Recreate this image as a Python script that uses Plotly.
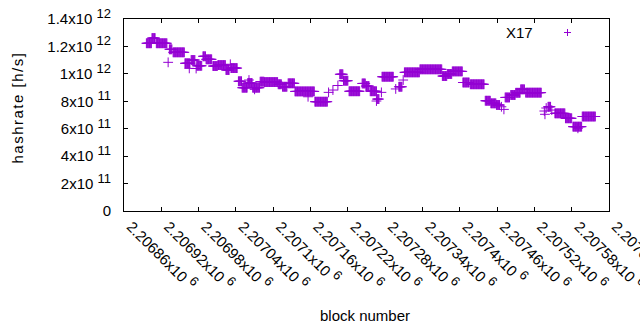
import plotly.graph_objects as go

# ---- data ----
# runs of blocks sharing the same hashrate estimate (start block, end block, value in h/s)
run_start = [2206896, 2206905, 2206912, 2206931, 2206933, 2206939, 2206958, 2206965, 2206968, 2206976,
             2206977, 2206987, 2206992, 2207003, 2207011, 2207024, 2207031, 2207032, 2207044, 2207050,
             2207059, 2207061, 2207067, 2207070, 2207079, 2207086, 2207108, 2207115, 2207124, 2207135,
             2207156, 2207167, 2207189, 2207196, 2207204, 2207207, 2207213, 2207222, 2207243, 2207249,
             2207256, 2207266, 2207267, 2207274, 2207275, 2207297, 2207302, 2207309, 2207311, 2207336,
             2207372, 2207380, 2207388, 2207405, 2207417, 2207441, 2207450, 2207459, 2207467, 2207471,
             2207473, 2207482, 2207490, 2207498, 2207506, 2207536, 2207537, 2207539, 2207542, 2207548,
             2207553, 2207570, 2207582, 2207590, 2207597]
run_end = [2206904, 2206910, 2206929, 2206931, 2206937, 2206957, 2206966, 2206965, 2206974, 2206976,
           2206985, 2206991, 2207001, 2207010, 2207023, 2207029, 2207031, 2207042, 2207049, 2207058,
           2207066, 2207061, 2207078, 2207070, 2207085, 2207107, 2207113, 2207122, 2207134, 2207166,
           2207156, 2207187, 2207189, 2207196, 2207204, 2207212, 2207220, 2207239, 2207248, 2207254,
           2207266, 2207266, 2207270, 2207274, 2207293, 2207297, 2207307, 2207309, 2207335, 2207371,
           2207379, 2207387, 2207404, 2207415, 2207439, 2207449, 2207458, 2207464, 2207467, 2207471,
           2207480, 2207489, 2207497, 2207504, 2207531, 2207536, 2207537, 2207539, 2207546, 2207548,
           2207569, 2207580, 2207596, 2207590, 2207618]
run_value = [1.223e12, 1.261e12, 1.223e12, 1.084e12, 1.179e12, 1.157e12, 1.077e12, 1.040e12, 1.101e12, 1.039e12,
             1.059e12, 1.128e12, 1.106e12, 1.057e12, 1.064e12, 1.028e12, 1.070e12, 1.042e12, 9.46e11, 8.99e11,
             9.33e11, 9.55e11, 8.99e11, 8.87e11, 9.43e11, 9.40e11, 9.24e11, 9.06e11, 9.31e11, 8.72e11,
             8.33e11, 7.97e11, 8.65e11, 8.82e11, 9.15e11, 9.97e11, 9.50e11, 8.73e11, 9.30e11, 9.11e11,
             8.73e11, 8.02e11, 8.16e11, 8.65e11, 9.79e11, 8.90e11, 9.06e11, 9.55e11, 1.011e12, 1.033e12,
             9.84e11, 9.99e11, 1.018e12, 9.37e11, 9.24e11, 8.04e11, 7.85e11, 7.73e11, 7.60e11, 7.41e11,
             8.28e11, 8.46e11, 8.62e11, 8.87e11, 8.63e11, 7.29e11, 7.05e11, 7.51e11, 7.60e11, 7.36e11,
             7.12e11, 6.76e11, 6.15e11, 6.03e11, 6.89e11]

series_name = "X17"

x_tick_vals = [2206860, 2206920, 2206980, 2207040, 2207100, 2207160, 2207220,
               2207280, 2207340, 2207400, 2207460, 2207520, 2207580, 2207640]
x_tick_mant = ["2.20686", "2.20692", "2.20698", "2.20704", "2.2071", "2.20716", "2.20722",
               "2.20728", "2.20734", "2.2074", "2.20746", "2.20752", "2.20758", "2.20764"]
x_tick_exp = ["6"] * 14
y_tick_vals = [0, 2e11, 4e11, 6e11, 8e11, 1e12, 1.2e12, 1.4e12]
y_tick_mant = ["0", "2", "4", "6", "8", "1", "1.2", "1.4"]
y_tick_exp = ["", "11", "11", "11", "11", "12", "12", "12"]


def sci(m, e):
    if not e:
        return m
    return m + "x10 <sup><span style=\"font-size:13px\">" + e + "</span></sup>"


# expand runs into one point per block
blocks, rates = [], []
for s, e, v in zip(run_start, run_end, run_value):
    for b in range(s, e + 1):
        blocks.append(b)
        rates.append(v)

color = "#9400D3"
font = "Liberation Sans, Arial, sans-serif"

fig = go.Figure()
fig.add_trace(go.Scatter(
    x=blocks, y=rates, mode="markers", name=series_name, showlegend=False,
    marker=dict(symbol="cross-thin", size=7, color=color, line=dict(color=color, width=1)),
    hoverinfo="skip"))

axis_common = dict(showline=True, linecolor="black", linewidth=1, mirror="ticks",
                   ticks="inside", ticklen=4, tickcolor="black", tickwidth=1,
                   showgrid=False, zeroline=False, automargin=False)

fig.update_xaxes(range=[2206860, 2207640], tickmode="array", tickvals=x_tick_vals,
                 ticktext=[sci(m, e) for m, e in zip(x_tick_mant, x_tick_exp)], tickangle=45,
                 ticklabeloverflow="allow", ticklabelshift=7,
                 **axis_common)
fig.update_yaxes(range=[0, 1.4e12], tickmode="array", tickvals=y_tick_vals,
                 ticktext=[sci(m, e) for m, e in zip(y_tick_mant, y_tick_exp)],
                 ticklabelstandoff=9, **axis_common)

L, R, T, B = 124, 31, 19, 119
PW, PH = 640 - L - R, 330 - T - B

def px(xp):
    return (xp - L) / PW

def py(yp):
    return (330 - B - yp) / PH

fig.update_layout(
    width=640, height=330, margin=dict(l=L, r=R, t=T, b=B, pad=0),
    plot_bgcolor="white", paper_bgcolor="white",
    font=dict(family=font, size=15, color="black"),
    showlegend=False,
    annotations=[
        dict(text="block number", xref="paper", yref="paper", x=px(365), y=py(315),
             xanchor="center", yanchor="middle", showarrow=False, font=dict(size=15)),
        dict(text="hashrate [h/s]", xref="paper", yref="paper", x=px(17), y=py(108),
             xanchor="center", yanchor="middle", textangle=-90, showarrow=False, font=dict(size=15)),
        dict(text=series_name, xref="paper", yref="paper", x=px(519), y=py(32),
             xanchor="center", yanchor="middle", showarrow=False, font=dict(size=15)),
    ],
    shapes=[
        dict(type="line", xref="paper", yref="paper", x0=px(564), x1=px(571), y0=py(32.5), y1=py(32.5),
             line=dict(color=color, width=1)),
        dict(type="line", xref="paper", yref="paper", x0=px(567.5), x1=px(567.5), y0=py(29), y1=py(36),
             line=dict(color=color, width=1)),
    ],
)

post = (
    "document.body.style.margin='0';document.body.style.overflow='hidden';"
    "document.querySelectorAll('.annotation-text').forEach(function(t){"
    "if(t.textContent.indexOf('hashrate')===0){t.style.letterSpacing='1.5px';}});"
)

fig.write_html("out.html", config={"displayModeBar": False}, post_script=post)
